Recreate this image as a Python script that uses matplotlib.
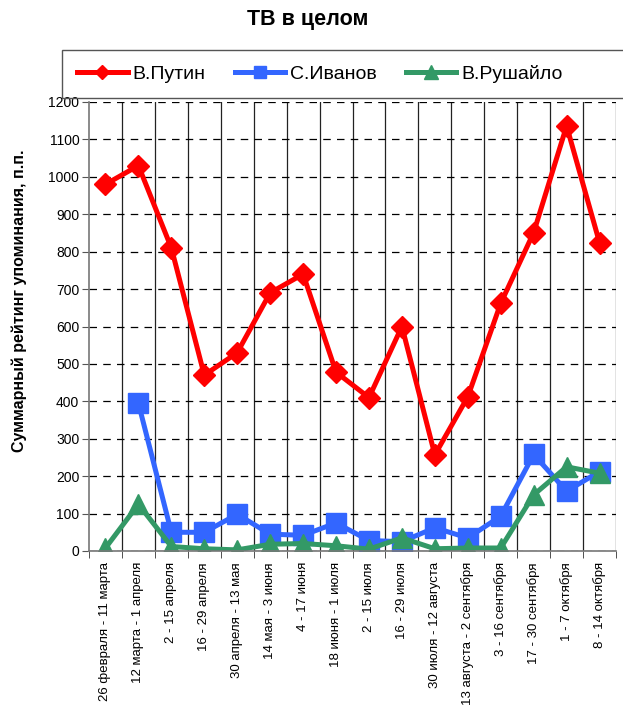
import matplotlib.pyplot as plt
from matplotlib.patches import Rectangle
import numpy as np

periods = ['26 февраля - 11 марта', '12 марта - 1 апреля', '2 - 15 апреля',
           '16 - 29 апреля', '30 апреля - 13 мая', '14 мая - 3 июня',
           '4 - 17 июня', '18 июня - 1 июля', '2 - 15 июля', '16 - 29 июля',
           '30 июля - 12 августа', '13 августа - 2 сентября', '3 - 16 сентября',
           '17 - 30 сентября', '1 - 7 октября', '8 - 14 октября']
putin = [980, 1030, 810, 470, 530, 690, 740, 478, 410, 600, 257, 412, 662, 851, 1136, 824]
ivanov = [np.nan, 395, 50, 50, 98, 45, 42, 75, 28, 25, 62, 35, 93, 258, 160, 212]
rushailo = [8, 125, 12, 6, 3, 18, 20, 14, 5, 35, 6, 8, 8, 150, 225, 208]

plt.rcParams['font.family'] = ['Liberation Sans', 'DejaVu Sans']

fig = plt.figure(figsize=(6.23, 7.13), dpi=100)
ax = fig.add_axes([89/623, 1 - 551/713, 527/623, 449/713])

x = np.arange(len(periods))
ax.plot(x, putin, color='#FF0000', lw=3.6, marker='D', ms=11, label='В.Путин')
ax.plot(x, ivanov, color='#3366FF', lw=3.6, marker='s', ms=14, label='С.Иванов')
ax.plot(x, rushailo, color='#339966', lw=3.6, marker='^', ms=15, label='В.Рушайло')

ax.set_xlim(-0.5, len(periods) - 0.5)
ax.set_ylim(0, 1200)
ax.set_yticks(range(0, 1201, 100))
ax.tick_params(axis='y', labelsize=10, length=5, color='#555555', pad=2)

ax.set_xticks(x)
ax.set_xticklabels(periods, rotation=90, fontsize=9.5)
ax.set_xticks(np.arange(-0.5, len(periods), 1), minor=True)
ax.tick_params(axis='x', which='major', length=0, pad=8)
ax.tick_params(axis='x', which='minor', length=5, color='#333333')

ax.grid(axis='y', color='black', ls=(0, (6, 5)), lw=0.9)
for b in np.arange(0.5, len(periods) - 0.5, 1):
    ax.axvline(b, color='#222222', lw=0.9, zorder=0)
ax.axvline(len(periods) - 0.5, color='#222222', lw=0.9, zorder=0)
ax.set_axisbelow(True)

for s in ['top', 'right']:
    ax.spines[s].set_visible(False)
ax.spines['left'].set_color('#777777')
ax.spines['bottom'].set_color('#777777')
ax.spines['left'].set_linewidth(1.2)
ax.spines['bottom'].set_linewidth(1.2)

ax.set_ylabel('Суммарный рейтинг упоминания, п.п.', fontsize=11.5, fontweight='bold')
ax.yaxis.set_label_coords(-62/527, 0.557)

fig.text(308/623, 1 - 20/713, 'ТВ в целом', ha='center', va='center',
         fontsize=15.5, fontweight='bold')

# legend frame runs off the right edge
fig.patches.append(Rectangle((62/623, 1 - 98/713), 600/623, 48/713,
                             transform=fig.transFigure, fill=False,
                             edgecolor='#555555', lw=1.0))
leg = fig.legend(loc='center left', ncol=3, bbox_to_anchor=(77/623, 1 - 74/713),
                 fontsize=14, handlelength=2.6, handletextpad=0.25,
                 columnspacing=1.5, borderpad=0, borderaxespad=0,
                 frameon=False, markerscale=0.65)

fig.savefig('out.png', dpi=100)
